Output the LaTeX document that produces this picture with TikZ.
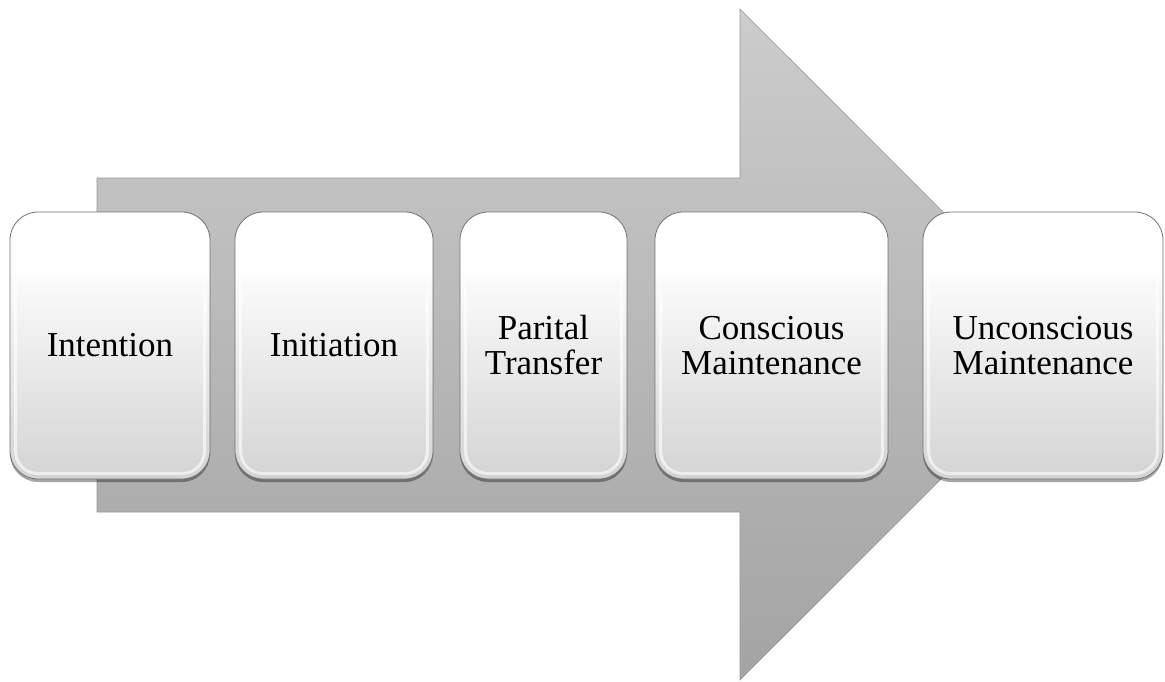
\documentclass[tikz,border=0pt]{standalone}
\usepackage{fontspec}
\setmainfont{Liberation Serif}
\usetikzlibrary{shadows,calc}
\pgfdeclareverticalshading{stagefill}{100bp}{color(0bp)=(black!18); color(25bp)=(black!17); color(62bp)=(black!2); color(64bp)=(white); color(100bp)=(white)}
\tikzset{
  bigarrow/.style={top color=black!20, bottom color=black!36, draw=black!40, line width=.6pt},
  stage/.style={
    rectangle, rounded corners=28pt, draw=black!55, line width=.8pt,
    shading=stagefill, minimum height=267pt, align=center,
    font=\fontsize{35}{35}\selectfont,
    drop shadow={shadow xshift=0pt, shadow yshift=-3pt, opacity=.35, fill=black}
  },
  rim/.style={draw=white, line width=3pt, opacity=.6, rounded corners=22pt}
}

\begin{document}
\begin{tikzpicture}[x=1pt,y=-1pt]
\useasboundingbox (0,0) rectangle (1165,681);
\draw[bigarrow] (97,178) -- (740,178) -- (740,9) -- (1076,344.5) -- (740,680) -- (740,512) -- (97,512) -- cycle;
\node[stage,minimum width=200pt] (intention) at (110,345.5) {Intention};
\node[stage,minimum width=198pt] (initiation) at (334,345.5) {Initiation};
\node[stage,minimum width=167pt] (partial) at (543.5,345.5) {Parital\\Transfer};
\node[stage,minimum width=233pt] (conscious) at (771.5,345.5) {Conscious\\Maintenance};
\node[stage,minimum width=240pt] (unconscious) at (1043,345.5) {Unconscious\\Maintenance};
% light bevel inside each box
\foreach \n in {intention,initiation,partial,conscious,unconscious}
  \draw[rim] ($(\n.north west)+(6,6)$) rectangle ($(\n.south east)+(-6,-6)$);
\end{tikzpicture}
\end{document}
